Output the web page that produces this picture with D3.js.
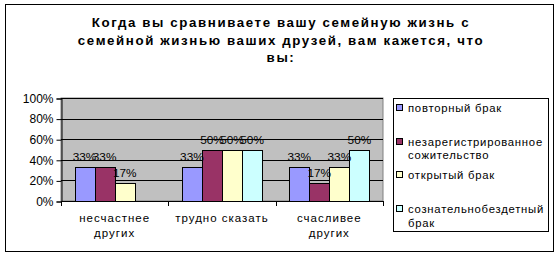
<!DOCTYPE html>
<html><head><meta charset="utf-8">
<script src="https://cdn.jsdelivr.net/npm/d3@7"></script>
<style>
html,body{margin:0;padding:0;background:#fff;}
svg{display:block;font-family:"Liberation Sans",Arial,sans-serif;}
</style></head>
<body>
<svg id="chart" width="560" height="258"></svg>
<script>
const titleLines = ["Когда вы сравниваете вашу семейную жизнь с", "семейной жизнью ваших друзей, вам кажется, что", "вы:"];
const categories = ["несчастнее других", "трудно сказать", "счасливее других"];
const categoryLines = [["несчастнее", "других"], ["трудно сказать"], ["счасливее", "других"]];
const seriesNames = ["повторный брак", "незарегистрированное сожительство", "открытый брак", "сознательнобездетный брак"];
const legendLines = [["повторный брак"], ["незарегистрированное", "сожительство"], ["открытый брак"], ["сознательнобездетный", "брак"]];
const seriesColors = ["#9999FF", "#993366", "#FFFFCC", "#CCFFFF"];
const povtorny = [0.33, 0.33, 0.33];
const nezareg = [0.33, 0.50, 0.17];
const otkryty = [0.17, 0.50, 0.33];
const bezdetny = [null, 0.50, 0.50];
const seriesValues = [povtorny, nezareg, otkryty, bezdetny];
const yTicks = [0, 0.2, 0.4, 0.6, 0.8, 1.0];

const svg = d3.select("#chart");
// outer frame
svg.append("rect").attr("x", 5.5).attr("y", 4.5).attr("width", 548).attr("height", 247)
  .attr("fill", "#fff").attr("stroke", "#000").attr("stroke-width", 1);

// title
svg.append("g").selectAll("text").data(titleLines).join("text")
  .attr("x", 281).attr("y", (d, i) => 27 + i * 17.5)
  .attr("text-anchor", "middle").attr("font-size", 13.3).attr("font-weight", "bold")
  .attr("letter-spacing", 1.6).attr("fill", "#000").text(d => d);

const L = 61, R = 383, T = 98, B = 201;
const x0 = d3.scaleBand().domain(categories).range([L, R]).paddingInner(0).paddingOuter(0);
const y = d3.scaleLinear().domain([0, 1]).range([B, T]);
const gap = 1.35;
const bw = x0.bandwidth() / (seriesNames.length + gap);
const x1 = d3.scaleBand().domain(d3.range(seriesNames.length))
  .range([x0.bandwidth() * gap / (2 * (seriesNames.length + gap)), x0.bandwidth() - x0.bandwidth() * gap / (2 * (seriesNames.length + gap))]);

// plot area
svg.append("rect").attr("x", L).attr("y", T).attr("width", R - L).attr("height", B - T)
  .attr("fill", "#C0C0C0").attr("stroke", "#808080").attr("stroke-width", 1);

// gridlines
svg.append("g").selectAll("line").data(yTicks.filter(d => d > 0)).join("line")
  .attr("x1", L).attr("x2", R).attr("y1", d => Math.round(y(d)) + 0.5).attr("y2", d => Math.round(y(d)) + 0.5)
  .attr("stroke", "#000").attr("stroke-width", 1);

// y axis
const yAxis = d3.axisLeft(y).tickValues(yTicks).tickFormat(d3.format(".0%")).tickSize(5).tickPadding(3);
const gy = svg.append("g").attr("transform", `translate(${L + 0.5},0.5)`).call(yAxis);
gy.select(".domain").attr("stroke", "#000");
gy.selectAll(".tick line").attr("stroke", "#000");
gy.selectAll("text").attr("font-size", 12).attr("fill", "#000").attr("font-family", "Liberation Sans, Arial, sans-serif");

// bars
const data = [];
categories.forEach((c, ci) => seriesValues.forEach((s, si) => {
  if (s[ci] !== null) data.push({ c, si, v: s[ci] });
}));
const gb = svg.append("g");
gb.selectAll("rect").data(data).join("rect")
  .attr("x", d => Math.round(x0(d.c) + x1(d.si)) + 0.5)
  .attr("y", d => Math.round(y(d.v)) + 0.5)
  .attr("width", Math.round(bw))
  .attr("height", d => Math.round(B) - Math.round(y(d.v)))
  .attr("fill", d => seriesColors[d.si]).attr("stroke", "#000").attr("stroke-width", 1);

// x axis
const xAxisLine = svg.append("g");
xAxisLine.append("line").attr("x1", L).attr("x2", R).attr("y1", B + 0.5).attr("y2", B + 0.5).attr("stroke", "#000");
const xTickPos = categories.map(c => x0(c)).concat([R]);
xAxisLine.selectAll("line.t").data(xTickPos).join("line").attr("class", "t")
  .attr("x1", d => Math.round(d) + 0.5).attr("x2", d => Math.round(d) + 0.5)
  .attr("y1", B).attr("y2", B + 5).attr("stroke", "#000");

// category labels
const gc = svg.append("g");
categories.forEach((c, ci) => {
  gc.append("text").attr("x", x0(c) + x0.bandwidth() / 2).attr("text-anchor", "middle")
    .attr("font-size", 11.5).attr("letter-spacing", 1).attr("fill", "#000")
    .selectAll("tspan").data(categoryLines[ci]).join("tspan")
    .attr("x", x0(c) + x0.bandwidth() / 2).attr("y", (d, i) => 222 + i * 14.5).text(d => d);
});

// data labels
svg.append("g").selectAll("text").data(data).join("text")
  .attr("x", d => x0(d.c) + x1(d.si) + bw / 2)
  .attr("y", d => y(d.v) - 6)
  .attr("text-anchor", "middle").attr("font-size", 11.8).attr("fill", "#000")
  .text(d => d3.format(".0%")(d.v));

// legend
svg.append("rect").attr("x", 393.5).attr("y", 98.5).attr("width", 155).attr("height", 133)
  .attr("fill", "#fff").attr("stroke", "#000").attr("stroke-width", 1);
const lg = svg.append("g");
legendLines.forEach((lines, i) => {
  const top = 108 + i * 33.6;
  lg.append("rect").attr("x", 396.5).attr("y", Math.round(top) - 3.5).attr("width", 6).attr("height", 6)
    .attr("fill", seriesColors[i]).attr("stroke", "#000").attr("stroke-width", 1);
  lg.append("text").attr("font-size", 11.3).attr("letter-spacing", 0.75).attr("fill", "#000")
    .selectAll("tspan").data(lines).join("tspan")
    .attr("x", 408).attr("y", (d, k) => top + 4 + k * 13.7).text(d => d);
});
</script>
</body></html>
